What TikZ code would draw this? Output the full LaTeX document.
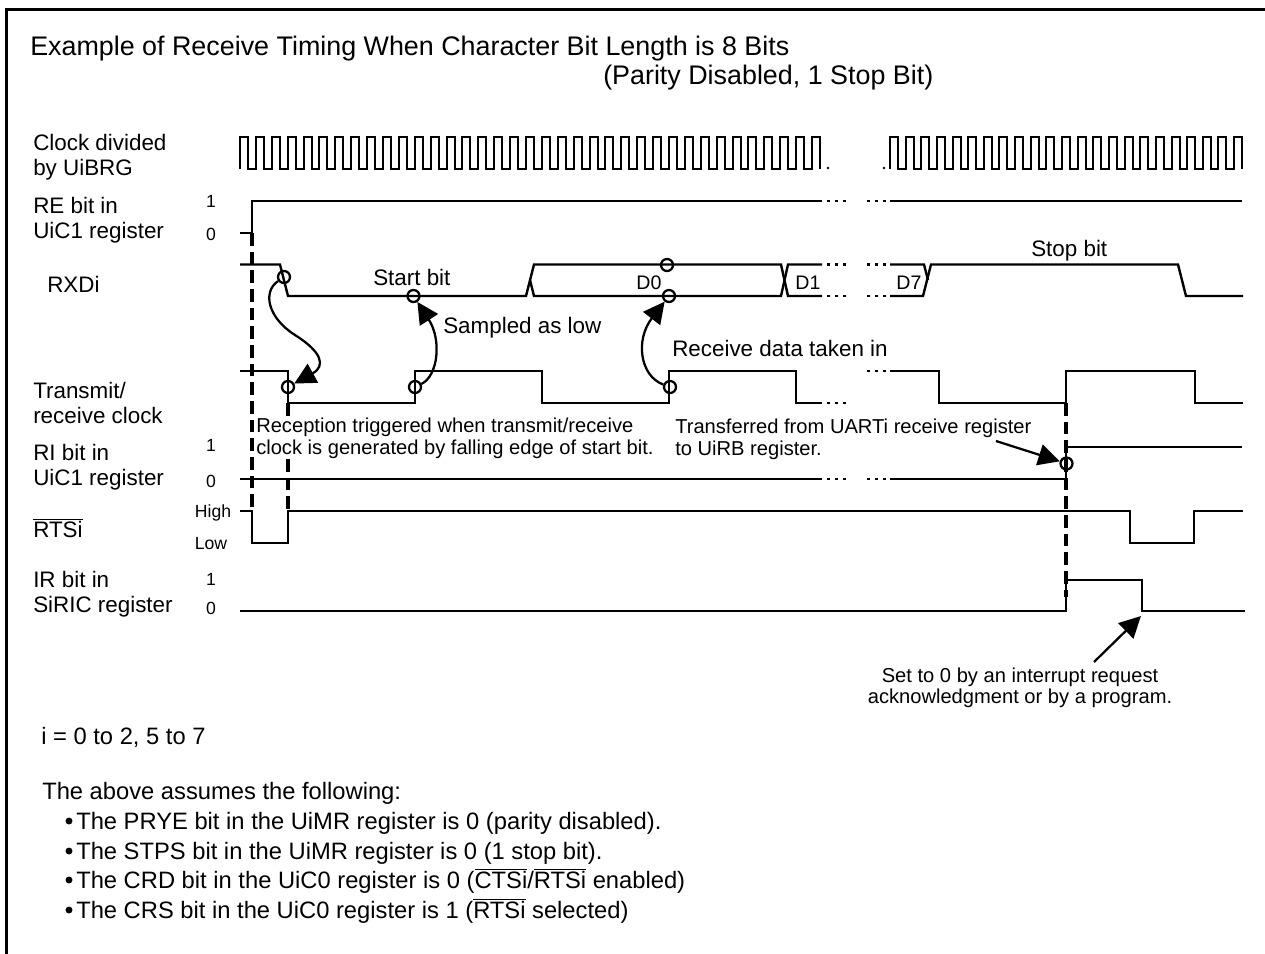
\documentclass[tikz,border=0pt]{standalone}
\usepackage{fontspec}
\setmainfont{Liberation Sans}
\usetikzlibrary{arrows.meta}
\newcommand{\fsz}[2]{\fontsize{#1}{#2}\selectfont}
\tikzset{
  wave/.style={line width=1.8pt, line join=miter},
  clockwave/.style={line width=1.6pt, line join=miter},
  gapdots/.style={line width=1.8pt, dash pattern=on 2.2pt off 3.8pt},
  markline/.style={line width=2.6pt, dash pattern=on 9.5pt off 4.5pt},
  sample/.style={circle, draw, line width=1.7pt, inner sep=0pt, minimum size=9pt},
  bigarrow/.style={line width=1.7pt, -{Triangle[length=16pt,width=16pt]}},
  sidelabel/.style={anchor=base west, align=left, inner sep=0pt, font=\fsz{16.8}{18.4}},
  levellabel/.style={anchor=center, inner sep=0pt, font=\fsz{13.2}{15}},
  notelabel/.style={anchor=base west, align=left, inner sep=0pt, font=\fsz{15.1}{15.9}},
  biglabel/.style={anchor=base west, inner sep=0pt, font=\fsz{16.8}{18.4}},
  datalabel/.style={anchor=base, inner sep=0pt, font=\fsz{14.7}{16}},
  footlabel/.style={anchor=base west, inner sep=0pt, font=\fsz{17.8}{20}},
  titlelabel/.style={anchor=base west, inner sep=0pt, font=\fsz{20.15}{22}}
}
\begin{document}
\begin{tikzpicture}[x=0.75pt, y=-0.75pt]
  \useasboundingbox (0,0) rectangle (1265,954);
  % frame
  \draw[line width=2.6pt] (6.5,954) -- (6.5,9.7) -- (1265,9.7);

  % title
  \node[titlelabel] (title) at (30,55) {Example of Receive Timing When Character Bit Length is 8 Bits};
  \node[titlelabel] (subtitle) at (603,84) {(Parity Disabled, 1 Stop Bit)};

  % signal names
  \node[sidelabel] (clklabel) at (33,175) {Clock divided\\by UiBRG};
  \node[sidelabel] (relabel) at (33,238) {RE bit in\\UiC1 register};
  \node[biglabel] (rxlabel) at (47,292) {RXDi};
  \node[sidelabel] (txlabel) at (33,423) {Transmit/\\receive clock};
  \node[sidelabel] (rilabel) at (33,485) {RI bit in\\UiC1 register};
  \node[biglabel] (rtslabel) at (33,537) {$\overline{\mbox{RTSi}}$};
  \node[sidelabel] (irlabel) at (33,612) {IR bit in\\SiRIC register};

  % levels
  \foreach \nm/\x/\y/\t in {re1/211/201/1, re0/211/234/0, ri1/211/445/1, ri0/211/481/0, ir1/211/579/1, ir0/211/608/0, rthi/213/513/High, rtlo/211/544/Low}
    \node[levellabel] (\nm) at (\x,\y) {\t};

  % clock
  \draw[clockwave] (240,169) \foreach \k in {0,...,36} { -- ({round(240+\k*15.89)},169) -- ({round(240+\k*15.89)},137) -- ({round(240+\k*15.89)+8},137) -- ({round(240+\k*15.89)+8},169) };
  \draw[clockwave] (890,169) \foreach \k in {0,...,22} { -- ({round(890+\k*15.64)},169) -- ({round(890+\k*15.64)},137) -- ({round(890+\k*15.64)+8},137) -- ({round(890+\k*15.64)+8},169) };
  \fill (828,168) circle (1pt) (884,168) circle (1pt);

  % gap dots
  \foreach \y in {201,264.5,296,479} {
    \draw[gapdots] (827,\y) -- (846,\y);
    \draw[gapdots] (867,\y) -- (886,\y);
  }
  \draw[gapdots] (827,403) -- (846,403);
  \draw[gapdots] (867,371) -- (886,371);

  % dashed markers
  \draw[markline] (252,233) -- (252,511);
  \draw[markline] (288,403) -- (288,511);
  \draw[markline] (1066,403) -- (1066,597);

  % waveforms
  \draw[wave] (240,233) -- (252,233) -- (252,201) -- (822,201);
  \draw[wave] (890,201) -- (1242,201);
  \draw[wave] (240,264.5) -- (280,264.5) -- (288,296) -- (526,296) -- (534,264.5) -- (781,264.5) -- (788,296) -- (822,296);
  \draw[wave] (530,280) -- (534,296) -- (781,296) -- (788,264.5) -- (822,264.5);
  \draw[wave] (890,264.5) -- (924,264.5) -- (928,280);
  \draw[wave] (890,296) -- (923,296) -- (931,264.5) -- (1178,264.5) -- (1186,296) -- (1243,296);
  \draw[wave] (240,371) -- (288,371) -- (288,403) -- (415,403) -- (415,371) -- (542,371) -- (542,403) -- (669,403) -- (669,371) -- (796,371) -- (796,403) -- (822,403);
  \draw[wave] (890,371) -- (939,371) -- (939,403) -- (1066,403) -- (1066,371) -- (1195,371) -- (1195,403) -- (1243,403);
  \draw[wave] (240,479) -- (822,479);
  \draw[wave] (890,479) -- (1066,479) -- (1066,447) -- (1242,447);
  \draw[wave] (240,511) -- (252,511) -- (252,543) -- (288,543) -- (288,511) -- (1130,511) -- (1130,543) -- (1194,543) -- (1194,511) -- (1243,511);
  \draw[wave] (240,611) -- (1066,611) -- (1066,580) -- (1142,580) -- (1142,611) -- (1245,611);

  % waveform texts
  \node[biglabel] (startbit) at (373,285) {Start bit};
  \node[biglabel] (sampled) at (443,333) {Sampled as low};
  \node[biglabel] (takenin) at (672,356) {Receive data taken in};
  \node[biglabel] (stopbit) at (1031,256) {Stop bit};
  \node[datalabel] (dzero) at (649,289) {D0};
  \node[datalabel] (done) at (808,289) {D1};
  \node[datalabel] (dseven) at (909,289) {D7};
  \node[notelabel, fill=white] (trigger) at (256,454) {Reception triggered when transmit/receive\\clock is generated by falling edge of start bit.};
  \node[notelabel] (transfer) at (675,455) {Transferred from UARTi receive register\\to UiRB register.};
  \node[anchor=base, align=center, inner sep=0pt, font=\fsz{15.1}{15.4}] (setzero) at (1020,703) {Set to 0 by an interrupt request\\acknowledgment or by a program.};

  % sampling points
  \node[sample] (rxfall) at (284,277) {};
  \node[sample] (clkone) at (288,387) {};
  \node[sample] (rxstart) at (413.5,296) {};
  \node[sample] (clktwo) at (415,387) {};
  \node[sample] (rxhigh) at (667,265) {};
  \node[sample] (rxlow) at (669,296) {};
  \node[sample] (clkthree) at (670,387) {};
  \node[sample] (riset) at (1066.5,463.5) {};

  % arrows
  \coordinate (trstart) at (996,441);
  \coordinate (irstart) at (1094,662);
  \coordinate (irtip) at (1141,616);
  \draw[bigarrow] (rxfall) .. controls (262,292) and (268,318) .. (295,335) .. controls (322,352) and (326,366) .. (clkone);
  \draw[bigarrow] (clktwo) .. controls (438,376) and (442,340) .. (rxstart);
  \draw[bigarrow] (clkthree) .. controls (640,376) and (635,340) .. (rxlow);
  \draw[bigarrow] (trstart) -- (riset);
  \draw[bigarrow] (irstart) -- (irtip);

  % notes
  \node[footlabel] (irange) at (41,744) {i = 0 to 2, 5 to 7};
  \node[footlabel] (assume) at (42,799) {The above assumes the following:};
  \node[footlabel] (assumea) at (76,829) {The PRYE bit in the UiMR register is 0 (parity disabled).};
  \node[footlabel] (assumeb) at (76,859) {The STPS bit in the UiMR register is 0 (1 stop bit).};
  \node[footlabel] (assumec) at (76,888) {The CRD bit in the UiC0 register is 0 ($\overline{\mbox{CTSi}}$/$\overline{\mbox{RTSi}}$ enabled)};
  \node[footlabel] (assumed) at (76,918) {The CRS bit in the UiC0 register is 1 ($\overline{\mbox{RTSi}}$ selected)};
  \foreach \y in {821,851,880,910}
    \fill (69,\y) circle (2.6pt);
\end{tikzpicture}
\end{document}
